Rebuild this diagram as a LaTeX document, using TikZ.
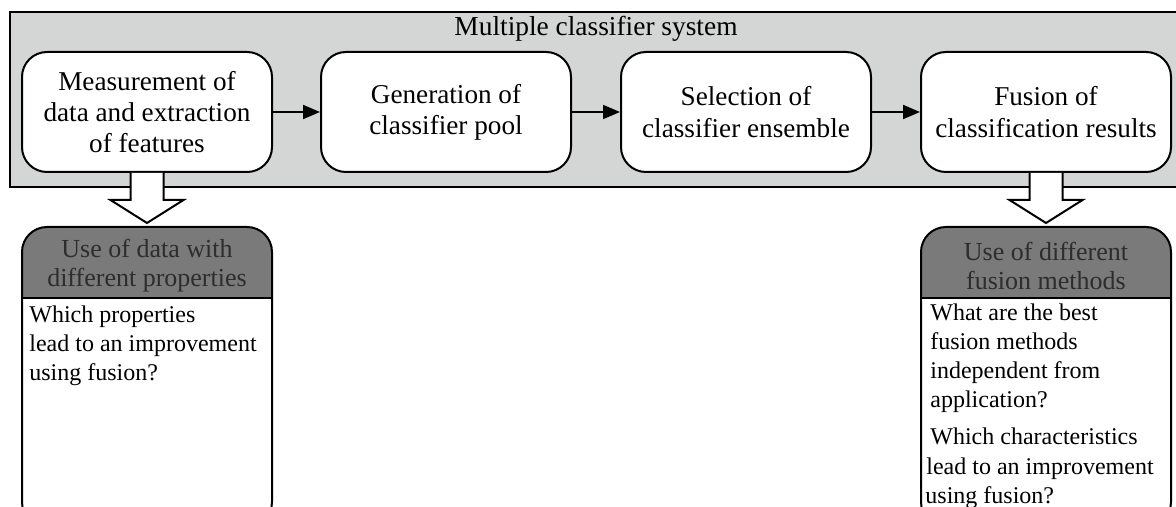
\documentclass[tikz,border=0pt]{standalone}
\definecolor{sysgray}{RGB}{212, 214, 213}
\definecolor{headgray}{RGB}{122, 122, 122}
\definecolor{headtext}{RGB}{45, 45, 45}
\usepackage{tikz}
\usetikzlibrary{arrows.meta, positioning, calc}
\usepackage{fontspec}
\setmainfont{Liberation Serif}
\tikzset{
    stagebox/.style={draw, rectangle, rounded corners=12.5pt, fill=white, line width=1pt, minimum width=125pt, minimum height=60pt, align=center, font=\fontsize{13.6}{15.6}\selectfont},
    issuebox/.style={rectangle, fill=white, minimum width=125pt, minimum height=150pt, outer sep=0pt},
    headtxt/.style={align=center, text=headtext, font=\fontsize{13}{14.5}\selectfont},
    bodytxt/.style={align=left, anchor=north west, inner sep=0pt, font=\fontsize{12}{14.6}\selectfont},
    flowarrow/.style={-{Triangle[length=8.5pt, width=7pt]}, line width=1pt},
    hollowarrow/.style={draw, fill=white, line width=1pt, line join=miter},
}

\begin{document}
\begin{tikzpicture}[x=0.5pt, y=-0.5pt]
                \path[use as bounding box, clip] (0,0) rectangle (1176,507);

                % System frame
                \node[draw, line width=1pt, fill=sysgray, minimum width=595pt, minimum height=87.5pt, anchor=north west, inner sep=0pt] (system) at (9,11) {};
                \node[font=\fontsize{13.7}{16}\selectfont] (systitle) at (596,29) {Multiple classifier system};

                % Stages
                \node[stagebox] (measure) at (147,112) {Measurement of\\data and extraction\\of features};
                \node[stagebox] (generate) at (446,112) {Generation of\\classifier pool};
                \node[stagebox] (select) at (746,112) {Selection of\\classifier ensemble};
                \node[stagebox] (fuse) at (1046,112) {Fusion of\\classification results};

                % Arrows
                \draw[flowarrow] (measure) -- (generate);
                \draw[flowarrow] (generate) -- (select);
                \draw[flowarrow] (select) -- (fuse);

                % Issues
                \node[issuebox, anchor=north] (dataissue) at (147,227) {};
                \node[issuebox, anchor=north] (fusionissue) at (1046,227) {};
                \foreach \issue in {dataissue, fusionissue} {
                    \begin{scope}
                        \clip[rounded corners=12.5pt] (\issue.north west) rectangle (\issue.south east);
                        \fill[headgray] (\issue.north west) rectangle ($(\issue.north east)+(0,71)$);
                    \end{scope}
                    \draw[line width=1pt, rounded corners=12.5pt] (\issue.north west) rectangle (\issue.south east);
                    \draw[line width=1pt] ($(\issue.north west)+(0,71)$) -- ($(\issue.north east)+(0,71)$);
                }

                \node[headtxt] (datahead) at (147,266) {Use of data with\\different properties};
                \node[headtxt] (fusionhead) at (1046,266) {Use of different\\fusion methods};

                \node[bodytxt] (databody) at (29,305) {Which properties\\lead to an improvement\\using fusion?};
                \node[bodytxt] (fusionbody) at (930,303) {What are the best\\fusion methods\\independent from\\application?\\[4pt]Which characteristics\\\hspace*{-2pt}lead to an improvement\\\hspace*{-2.5pt}using fusion?};

                % Hollow arrows
                \draw[hollowarrow] ($(measure.south)+(-16.5,0)$) -- ++(0,27) -- ++(-20,0) -- ($(dataissue.north)+(0,-4)$) -- ($(measure.south)+(36.5,27)$) -- ++(-20,0) -- ($(measure.south)+(16.5,0)$);
                \draw[hollowarrow] ($(fuse.south)+(-16.5,0)$) -- ++(0,27) -- ++(-20,0) -- ($(fusionissue.north)+(0,-4)$) -- ($(fuse.south)+(36.5,27)$) -- ++(-20,0) -- ($(fuse.south)+(16.5,0)$);
            \end{tikzpicture}
\end{document}
